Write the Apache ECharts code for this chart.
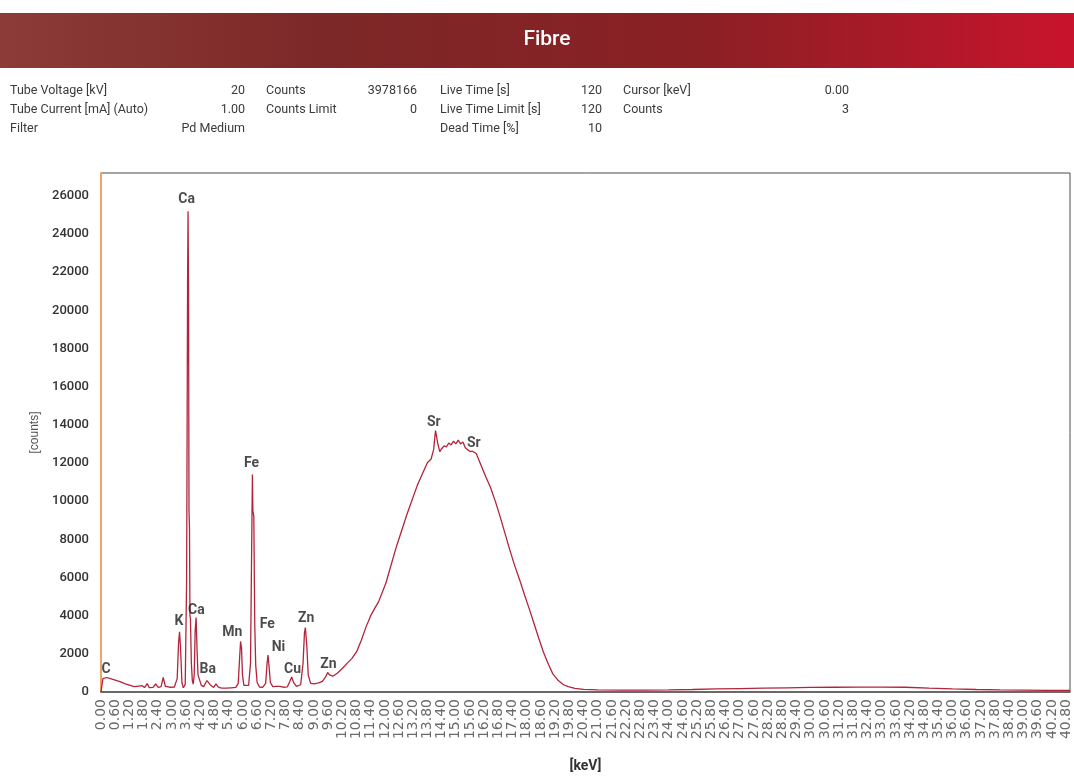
<!DOCTYPE html>
<html>
<head>
<meta charset="utf-8">
<script src="https://cdn.jsdelivr.net/npm/echarts@6/dist/echarts.min.js"></script>
<style>
  html, body { margin: 0; padding: 0; background: #ffffff; }
  #chart { width: 1074px; height: 778px; }
</style>
</head>
<body>
<div id="chart"></div>
<script>
// XRF spectrum of the "Fibre" sample: energy (keV) vs detector counts
const energyKeV = [
  0.00, 0.04, 0.08, 0.14, 0.24, 0.40, 0.60, 0.80, 1.00, 1.20, 1.40, 1.52, 1.60, 1.74, 1.84, 1.95, 2.04, 2.20, 2.31, 2.42,
  2.54, 2.63, 2.72, 2.90, 3.10, 3.22, 3.28, 3.32, 3.36, 3.42, 3.48, 3.56, 3.62, 3.66, 3.68, 3.70, 3.72, 3.74, 3.76, 3.78,
  3.82, 3.86, 3.90, 3.94, 3.98, 4.02, 4.06, 4.10, 4.16, 4.24, 4.34, 4.48, 4.56, 4.64, 4.76, 4.86, 4.96, 5.10, 5.30, 5.50,
  5.70, 5.80, 5.86, 5.90, 5.94, 5.98, 6.04, 6.12, 6.24, 6.32, 6.36, 6.40, 6.42, 6.46, 6.50, 6.54, 6.60, 6.70, 6.84, 6.96,
  7.02, 7.06, 7.10, 7.16, 7.26, 7.40, 7.48, 7.56, 7.70, 7.88, 7.98, 8.06, 8.14, 8.26, 8.44, 8.54, 8.60, 8.64, 8.70, 8.76,
  8.86, 9.00, 9.20, 9.36, 9.50, 9.58, 9.66, 9.80, 10.00, 10.20, 10.40, 10.60, 10.80, 11.00, 11.20, 11.40, 11.60, 11.74, 12.04, 12.48,
  12.93, 13.37, 13.80, 13.95, 14.06, 14.14, 14.24, 14.32, 14.40, 14.50, 14.60, 14.70, 14.80, 14.90, 15.00, 15.10, 15.20, 15.30, 15.40, 15.50,
  15.60, 15.70, 15.86, 16.06, 16.26, 16.47, 16.68, 16.88, 17.08, 17.28, 17.48, 17.69, 17.90, 18.10, 18.30, 18.50, 18.70, 18.91, 19.10, 19.33,
  19.55, 19.75, 20.03, 20.40, 21.00, 22.00, 23.00, 24.00, 25.00, 26.00, 27.00, 28.00, 29.00, 30.00, 31.00, 32.00, 33.00, 34.00, 35.00, 36.00,
  37.00, 38.00, 39.00, 40.00, 40.96
];
const counts = [
  0, 60, 700, 800, 760, 700, 620, 540, 440, 360, 280, 300, 250, 330, 230, 440, 230, 240, 420, 240,
  280, 760, 300, 250, 260, 700, 2600, 3150, 2400, 500, 220, 400, 6000, 21500, 25200, 21000, 9500, 8600, 4000, 3850,
  1500, 600, 410, 900, 3200, 3900, 2200, 900, 850, 350, 280, 600, 690, 350, 240, 420, 250, 200, 200, 220,
  240, 450, 1800, 2650, 2300, 900, 350, 260, 350, 1500, 6500, 11400, 9500, 9200, 3500, 1400, 500, 260, 250, 450,
  1500, 1930, 1400, 500, 280, 300, 400, 300, 250, 270, 550, 790, 500, 300, 380, 1500, 3100, 3380, 2400, 900,
  450, 430, 480, 560, 800, 1020, 900, 830, 1000, 1230, 1500, 1750, 2100, 2700, 3400, 4000, 4450, 4750, 5700, 7590,
  9300, 10830, 12030, 12200, 12700, 13700, 13000, 12600, 12750, 12900, 12850, 13050, 12950, 13150, 13000, 13200, 13000, 13100, 12800, 12700,
  12600, 12620, 12500, 11900, 11300, 10700, 9950, 9150, 8300, 7450, 6650, 5900, 5100, 4370, 3600, 2830, 2100, 1450, 950, 600,
  380, 280, 190, 140, 110, 100, 100, 110, 130, 160, 180, 200, 220, 240, 250, 260, 260, 250, 200, 160,
  130, 110, 100, 90, 90
];

// Element line labels: name, energy (keV), counts level where the label sits
const peakNames = ['C', 'Ca', 'K', 'Ca', 'Ba', 'Mn', 'Fe', 'Fe', 'Ni', 'Cu', 'Zn', 'Zn', 'Sr', 'Sr'];
const peakKeV = [0.22, 3.62, 3.30, 4.03, 4.51, 5.55, 6.36, 7.03, 7.50, 8.10, 8.67, 9.61, 14.07, 15.76];
const peakLabelCounts = [1180, 25790, 3700, 4265, 1180, 3100, 11970, 3545, 2350, 1180, 3840, 1440, 14110, 13000];

// Measurement parameters shown above the plot
const infoColLabels = [
  ['Tube Voltage [kV]', 'Tube Current [mA] (Auto)', 'Filter'],
  ['Counts', 'Counts Limit', ''],
  ['Live Time [s]', 'Live Time Limit [s]', 'Dead Time [%]'],
  ['Cursor [keV]', 'Counts', '']
];
const infoColValues = [
  ['20', '1.00', 'Pd Medium'],
  ['3978166', '0', ''],
  ['120', '120', '10'],
  ['0.00', '3', '']
];
const chartTitle = 'Fibre';

const narrow = "Roboto, 'Liberation Sans', sans-serif";

const spectrum = energyKeV.map((e, i) => [e, counts[i]]);
const peakPoints = peakNames.map((n, i) => ({ name: n, value: [peakKeV[i], peakLabelCounts[i]] }));

// header banner + parameter table as graphic elements
const labelX = [10, 266, 440, 623];
const valueX = [245, 417, 602, 849];
const rowY = [91, 110, 129];
const graphics = [
  {
    type: 'rect', left: 0, top: 13, z: 0,
    shape: { width: 1074, height: 55 },
    style: {
      fill: new echarts.graphic.LinearGradient(0, 0, 1, 0, [
        { offset: 0, color: '#8c3b38' },
        { offset: 0.3, color: '#7c2828' },
        { offset: 0.65, color: '#8a2024' },
        { offset: 1, color: '#c8142c' }
      ])
    }
  },
  {
    type: 'text', x: 547, y: 40, z: 2,
    style: {
      text: chartTitle, fill: '#ffffff', font: "500 21px " + narrow,
      textAlign: 'center', textVerticalAlign: 'middle'
    }
  }
];
infoColLabels.forEach((col, c) => {
  col.forEach((t, r) => {
    if (!t) return;
    graphics.push({
      type: 'text', x: labelX[c], y: rowY[r], z: 2,
      style: { text: t, fill: '#3a3a3a', font: "12.5px " + narrow, textAlign: 'left', textVerticalAlign: 'middle' }
    });
  });
});
infoColValues.forEach((col, c) => {
  col.forEach((t, r) => {
    if (!t) return;
    graphics.push({
      type: 'text', x: valueX[c], y: rowY[r], z: 2,
      style: { text: t, fill: '#3a3a3a', font: "12.5px " + narrow, textAlign: 'right', textVerticalAlign: 'middle' }
    });
  });
});

const chart = echarts.init(document.getElementById('chart'), null, { renderer: 'canvas' });
chart.setOption({
  animation: false,
  backgroundColor: '#ffffff',
  graphic: graphics,
  grid: {
    left: 101, right: 4, top: 173, bottom: 75,
    show: true, borderColor: '#4a4a4a', borderWidth: 1, backgroundColor: 'transparent'
  },
  xAxis: {
    type: 'value', min: 0, max: 40.96, interval: 0.6,
    name: '[keV]', nameLocation: 'middle', nameGap: 67,
    nameTextStyle: { fontFamily: narrow, fontWeight: 'bold', fontSize: 14, color: '#333333' },
    axisLine: { lineStyle: { color: '#555555', width: 1.5 } },
    axisTick: { show: false },
    splitLine: { show: false },
    axisLabel: {
      rotate: 90, margin: 7, fontSize: 14, lineHeight: 12, color: '#6a6a6a',
      fontFamily: "'DejaVu Sans', sans-serif",
      hideOverlap: false, interval: 0,
      showMinLabel: true, showMaxLabel: false,
      formatter: v => v.toFixed(2)
    }
  },
  yAxis: {
    type: 'value', min: 0, max: 27200, interval: 2000,
    name: '[counts]', nameLocation: 'middle', nameGap: 36, nameRotate: 90,
    nameTextStyle: { fontFamily: "'Liberation Sans', Arial, sans-serif", fontSize: 12, color: '#555555' },
    axisLine: { show: true, lineStyle: { color: '#f0a468', width: 2 } },
    axisTick: { show: false },
    splitLine: { show: false },
    axisLabel: {
      margin: 12, fontSize: 13, fontWeight: 500, color: '#333333', fontFamily: narrow,
      showMaxLabel: false,
      formatter: v => String(v)
    }
  },
  series: [
    {
      type: 'line', data: spectrum, showSymbol: false, smooth: false,
      lineStyle: { color: '#b3243a', width: 1.3 },
      z: 3
    },
    {
      type: 'scatter', data: peakPoints, symbolSize: 1,
      itemStyle: { color: 'transparent' },
      label: {
        show: true, position: 'inside', formatter: p => p.name,
        fontFamily: narrow, fontWeight: 'bold', fontSize: 14, color: '#1e1e1e'
      },
      z: 4
    }
  ]
});
</script>
</body>
</html>
